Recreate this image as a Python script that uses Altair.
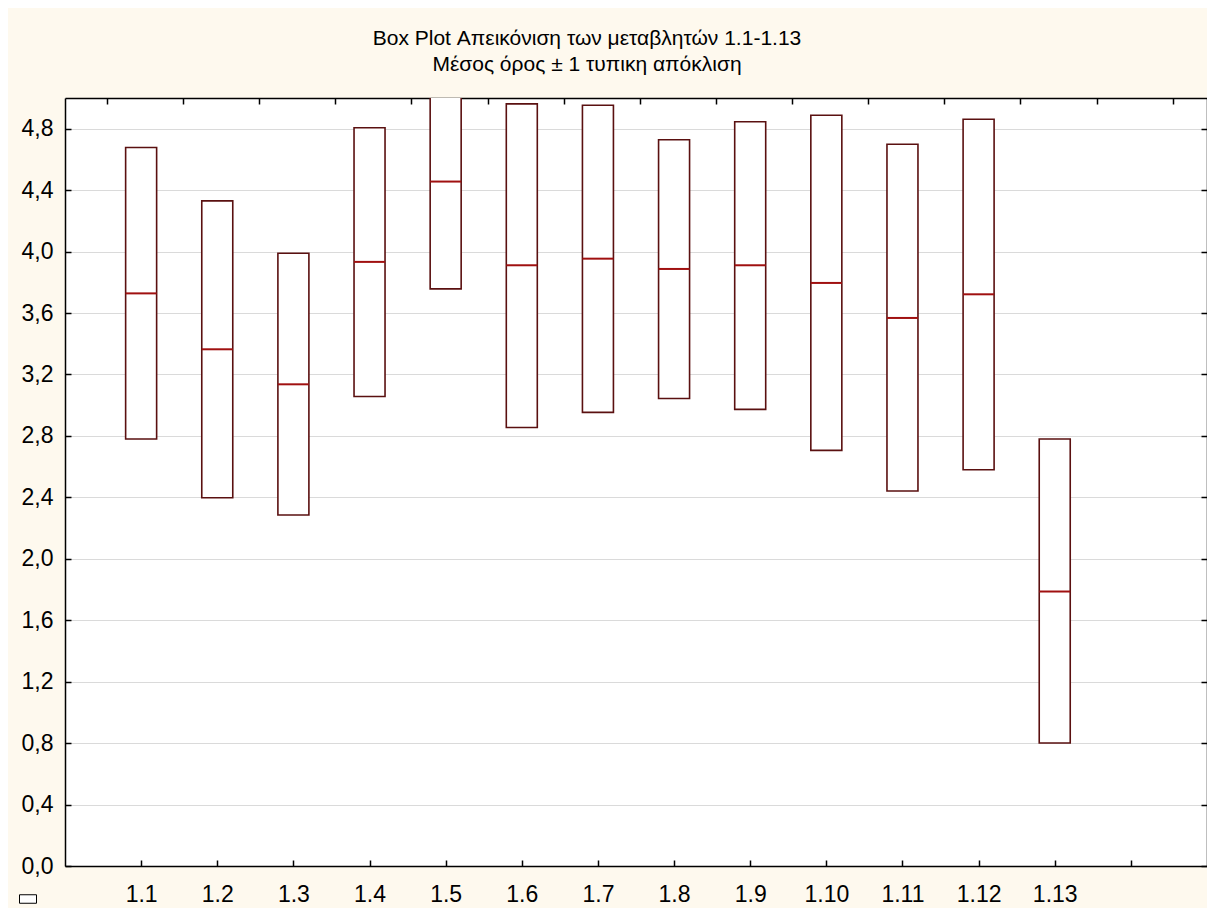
import altair as alt
import pandas as pd

FONT = "Liberation Sans"

# ---- data ----
categories = ["1.1", "1.2", "1.3", "1.4", "1.5", "1.6", "1.7",
              "1.8", "1.9", "1.10", "1.11", "1.12", "1.13"]
means = [3.728, 3.364, 3.136, 3.933, 4.456, 3.911, 3.954,
         3.887, 3.911, 3.796, 3.568, 3.722, 1.787]
lowers = [2.780, 2.397, 2.285, 3.057, 3.757, 2.855, 2.953,
          3.044, 2.973, 2.706, 2.441, 2.580, 0.801]
uppers = [4.678, 4.330, 3.989, 4.806, 5.155, 4.962, 4.953,
          4.728, 4.845, 4.888, 4.699, 4.862, 2.780]

x_domain = categories + [""]
y_ticks = [0.0, 0.4, 0.8, 1.2, 1.6, 2.0, 2.4, 2.8, 3.2, 3.6, 4.0, 4.4, 4.8]
top_ticks = [round(0.55 + k, 2) for k in range(15)]

title_lines = ["Box Plot Απεικόνιση των μεταβλητών 1.1-1.13",
               "Μέσος όρος ± 1 τυπικη απόκλιση"]

df = pd.DataFrame({"cat": categories, "mean": means,
                   "lower": lowers, "upper": uppers,
                   "leg": [""] * len(categories)})

W, H = 1142, 768
xscale = alt.Scale(type="point", domain=x_domain, padding=1)
yscale = alt.Scale(domain=[0, 5], nice=False, zero=True)
label_expr = "replace(format(datum.value, '.1f'), '.', ',')"

boxes = alt.Chart(df).mark_bar(
    width=31, fill="white", stroke="#5A1010", strokeWidth=1.6, clip=True
).encode(
    x=alt.X("cat:O", scale=xscale, axis=alt.Axis(
        title=None, orient="bottom", ticks=False, labelFontSize=23,
        labelFont=FONT, labelColor="black", labelPadding=17, labelAngle=0,
        domainColor="black", domainWidth=1.5, grid=False)),
    y=alt.Y("lower:Q", scale=yscale, axis=alt.Axis(
        title=None, values=y_ticks, labelExpr=label_expr, ticks=False,
        grid=True, gridColor="#DADADA", gridWidth=1, labelFontSize=23,
        labelFont=FONT, labelColor="black", labelPadding=12,
        domainColor="black", domainWidth=1.5)),
    y2="upper:Q",
)

mean_lines = alt.Chart(df).mark_tick(
    color="#A01010", thickness=2, size=31, opacity=1
).encode(
    x=alt.X("cat:O", scale=xscale),
    y=alt.Y("mean:Q", scale=yscale),
)

layer_a = alt.layer(boxes, mean_lines)

# inward ticks: bottom (category centres) and left, plus legend glyph
layer_c = alt.Chart(df).mark_text(text="").encode(
    x=alt.X("cat:O", scale=xscale, axis=alt.Axis(
        orient="top", offset=-H, labels=False, tickSize=6, tickColor="black",
        tickWidth=1.5, domain=False, grid=False, title=None)),
    y=alt.Y("mean:Q", scale=yscale, axis=alt.Axis(
        orient="right", offset=-W, values=y_ticks, labels=False, tickSize=6,
        tickColor="black", tickWidth=1.5, domain=False, grid=False,
        title=None)),
    fill=alt.Fill("leg:N", scale=alt.Scale(range=["white"]), legend=alt.Legend(
        orient="none", legendX=-46, legendY=792, title=None, padding=0,
        symbolType="M-1,-0.5L1,-0.5L1,0.5L-1,0.5Z", symbolSize=289,
        symbolStrokeColor="black", symbolStrokeWidth=1,
        labelFontSize=1, labelLimit=1)),
)

# inward ticks: top and right frame
layer_d = alt.Chart(df).mark_text(text="").encode(
    x=alt.X("mean:Q", scale=alt.Scale(domain=[0, 15], nice=False, zero=False),
            axis=alt.Axis(orient="bottom", offset=-H, values=top_ticks,
                          labels=False, tickSize=6, tickColor="black",
                          tickWidth=1.5, domainColor="black", domainWidth=1.5,
                          grid=False, title=None)),
    y=alt.Y("mean:Q", scale=yscale, axis=alt.Axis(
        orient="left", offset=-W, values=y_ticks, labels=False, tickSize=6,
        tickColor="black", tickWidth=1.5, domainColor="black",
        domainWidth=1.5, grid=False, title=None)),
)

chart = alt.layer(layer_a, layer_c, layer_d).resolve_scale(
    x="independent", y="independent"
).resolve_axis(
    x="independent", y="independent"
).properties(
    width=W, height=H,
    autosize="none",
    padding={"left": 57, "top": 90, "right": 0, "bottom": 42},
    background="#FEF9EE",
    title=alt.Title(text=title_lines, fontSize=21, font=FONT,
                    fontWeight="normal", color="black", anchor="middle",
                    frame="group", dx=-49, offset=22, lineHeight=26),
).configure_view(fill="white", stroke=None)

chart.save("out.html", embed_options={"renderer": "svg", "actions": False})
